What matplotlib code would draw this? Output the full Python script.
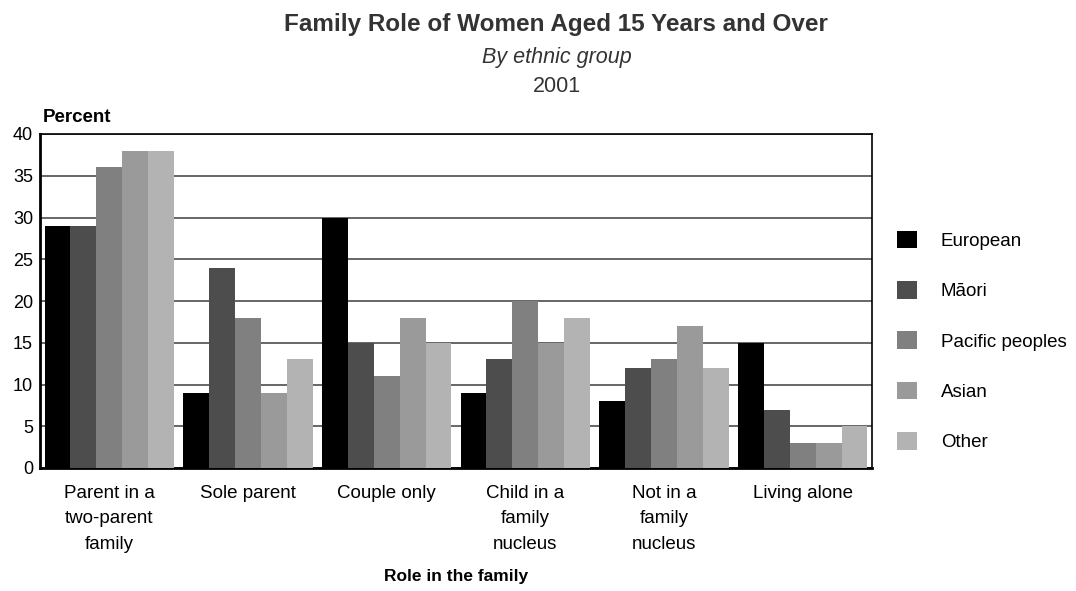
import matplotlib
matplotlib.use("Agg")
import matplotlib.pyplot as plt
import numpy as np

plt.rcParams['font.family'] = ['Liberation Sans', 'DejaVu Sans']

categories = ["Parent in a\ntwo-parent\nfamily", "Sole parent", "Couple only",
              "Child in a\nfamily\nnucleus", "Not in a\nfamily\nnucleus", "Living alone"]
groups = ["European", "M\u0101ori", "Pacific peoples", "Asian", "Other"]
european = [29, 9, 30, 9, 8, 15]
maori = [29, 24, 15, 13, 12, 7]
pacific = [36, 18, 11, 20, 13, 3]
asian = [38, 9, 18, 15, 17, 3]
other = [38, 13, 15, 18, 12, 5]
series = [european, maori, pacific, asian, other]
colors = ["#000000", "#4d4d4d", "#808080", "#9a9a9a", "#b3b3b3"]
yticks = [0, 5, 10, 15, 20, 25, 30, 35, 40]

W, H = 1076, 591
fig = plt.figure(figsize=(W / 100, H / 100), dpi=100)
ax = fig.add_axes([40 / W, 1 - 468 / H, (872 - 40) / W, (468 - 134) / H])

x = np.arange(len(categories))
bw = 0.187
handles = []
for i, (vals, col, name) in enumerate(zip(series, colors, groups)):
    b = ax.bar(x + (i - 2) * bw, vals, width=bw, color=col, label=name,
               zorder=3, linewidth=0)
    handles.append(b)

ax.set_xlim(-0.5, len(categories) - 0.5)
ax.set_ylim(0, 40)
ax.set_yticks(yticks)
ax.set_xticks(x)
ax.set_xticklabels(categories, linespacing=1.66, fontsize=13.5)
ax.tick_params(axis='both', length=0, colors='#000000')
ax.tick_params(axis='y', pad=5, labelsize=13)
ax.tick_params(axis='x', pad=12)
ax.yaxis.grid(True, color='#4d4d4d', linewidth=1.2, zorder=0)
ax.set_axisbelow(True)
for side in ['left', 'bottom']:
    ax.spines[side].set_linewidth(2.0)
    ax.spines[side].set_color('#000000')
for side in ['top', 'right']:
    ax.spines[side].set_linewidth(1.2)
    ax.spines[side].set_color('#000000')

ax.set_xlabel("Role in the family", fontsize=12.5, fontweight='bold', labelpad=12)
fig.text(43 / W, 1 - 118 / H, "Percent", fontsize=13.5, fontweight='bold',
         ha='left', va='center')

# titles
fig.text(556 / W, 1 - 24 / H, "Family Role of Women Aged 15 Years and Over",
         fontsize=17.5, fontweight='bold', color='#333333',
         ha='center', va='center')
fig.text(557 / W, 1 - 57 / H, "By ethnic group", fontsize=15.5,
         style='italic', color='#333333', ha='center', va='center')
fig.text(557 / W, 1 - 87 / H, "2001", fontsize=15.5,
         color='#333333', ha='center', va='center')

fs = 13.5
fpx = fs * 100 / 72
leg = fig.legend(handles=handles, labels=groups, loc='center left',
                 bbox_to_anchor=(897 / W, 1 - 341 / H), frameon=False,
                 fontsize=fs, handlelength=20 / fpx, handleheight=20 / fpx,
                 handletextpad=(941 - 917) / fpx, labelspacing=1.66,
                 borderpad=0, borderaxespad=0)

fig.savefig("out.png", dpi=100)
